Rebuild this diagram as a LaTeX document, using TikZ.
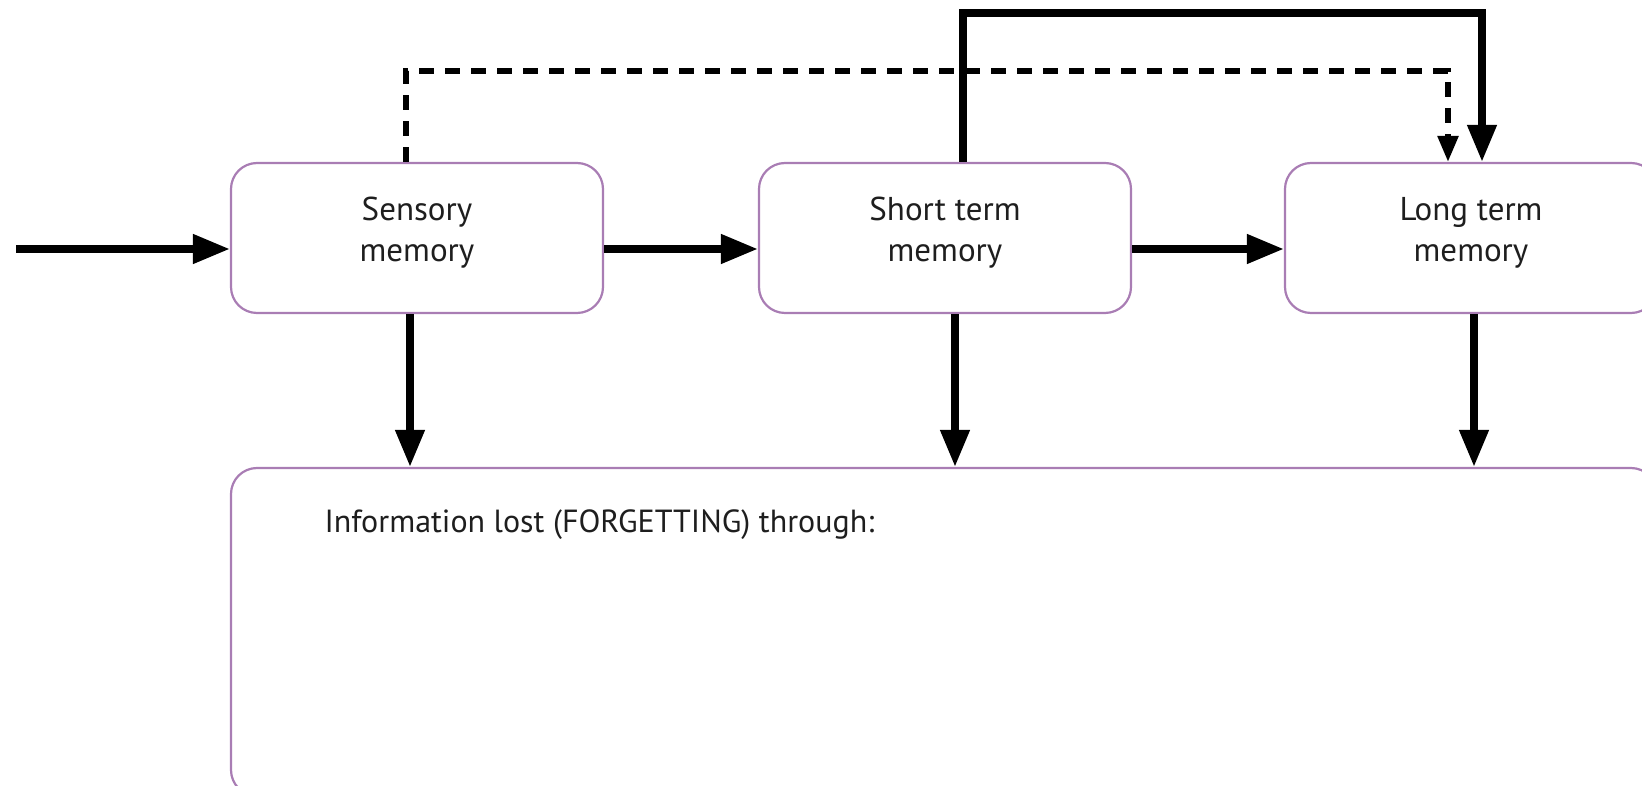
\documentclass[tikz,border=0pt]{standalone}
\usepackage{fontspec}
\setmainfont{PT Sans}
\usetikzlibrary{arrows.meta,calc,positioning}
\definecolor{Frame}{HTML}{A97DB4}
\definecolor{Ink}{HTML}{1E1E1E}

\begin{document}
\begin{tikzpicture}[x=1pt,y=1pt,
    memobox/.style={draw=Frame,line width=2.2pt,rounded corners=26pt,fill=white,
      minimum width=372pt,minimum height=150pt,align=center,text=Ink,text depth=18pt,
      font=\fontsize{33}{41}\selectfont},
    flow/.style={line width=7.5pt,-{Triangle[length=37pt,width=28pt]}},
    dashflow/.style={line width=5.5pt,dash pattern=on 15pt off 11pt,-{Triangle[length=26pt,width=20pt]}}]
    \clip (0,0) rectangle (1642,785);
    \useasboundingbox (0,0) rectangle (1642,785);

    \node[memobox] (sens) at (417,547) {Sensory\\memory};
    \node[memobox] (short) at (945,547) {Short term\\memory};
    \node[memobox] (long) at (1471,547) {Long term\\memory};
    \node[memobox,minimum width=1426pt,minimum height=328pt,text depth=0pt] (lost) at (944,153) {};
    \node[anchor=base west,text=Ink,font=\fontsize{32}{40}\selectfont] (lostlabel) at (321,252) {Information lost (FORGETTING) through:};

    \coordinate (input) at (16,536);
    \draw[flow] (input) -- (input -| sens.west);
    \draw[flow] ([yshift=-11pt]sens.east) -- ([yshift=-11pt]short.west);
    \draw[flow] ([yshift=-11pt]short.east) -- ([yshift=-11pt]long.west);

    % forgetting from every store
    \draw[flow] ([xshift=-7pt]sens.south) -- ([xshift=-7pt]sens.south |- lost.north);
    \draw[flow] ([xshift=10pt]short.south) -- ([xshift=10pt]short.south |- lost.north);
    \draw[flow] ([xshift=3pt]long.south) -- ([xshift=3pt]long.south |- lost.north);

    % routes over the top
    \coordinate (dashfrom) at ([xshift=-11pt]sens.north);
    \coordinate (dashtop) at (0,714);
    \coordinate (solidfrom) at ([xshift=18pt]short.north);
    \coordinate (solidtop) at (0,772);
    \draw[dashflow] (dashfrom) -- (dashfrom |- dashtop) -| ([xshift=-23pt]long.north);
    \draw[flow] (solidfrom) -- (solidfrom |- solidtop) -| ([xshift=11pt]long.north);
  \end{tikzpicture}
\end{document}
